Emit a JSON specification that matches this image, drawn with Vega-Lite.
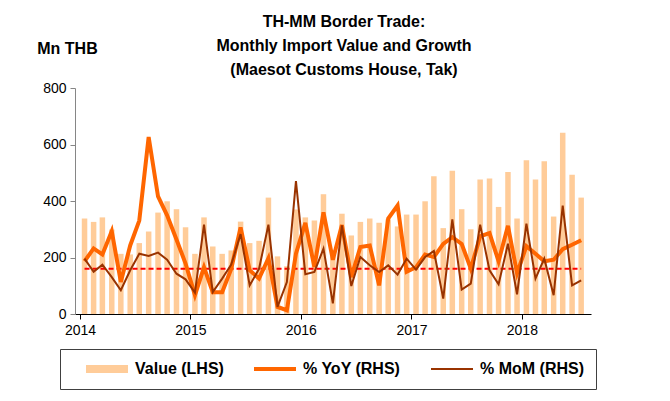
{
  "$schema": "https://vega.github.io/schema/vega-lite/v6.json",
  "autosize": {"type": "none"},
  "padding": {"left": 75, "top": 88, "right": 79, "bottom": 87},
  "width": 516,
  "height": 226,
  "background": "white",
  "config": {
    "font": "Liberation Sans",
    "view": {"stroke": null},
    "axis": {"grid": false, "labelFont": "Liberation Sans", "labelFontSize": 14, "labelColor": "#000000", "titleFont": "Liberation Sans"}
  },
  "title": {
    "text": ["TH-MM Border Trade:", "Monthly Import Value and Growth", "(Maesot Customs House, Tak)"],
    "font": "Liberation Sans",
    "fontSize": 16,
    "fontWeight": "bold",
    "color": "#000000",
    "lineHeight": 24,
    "anchor": "middle",
    "dx": 11,
    "dy": 46,
    "offset": 8
  },
  "data": {
    "values": [
      {"date": "2014-01-16", "value": 338, "yoy": 10, "mom": 13.5},
      {"date": "2014-02-15", "value": 326, "yoy": 27, "mom": -4},
      {"date": "2014-03-16", "value": 342, "yoy": 19, "mom": 5.5},
      {"date": "2014-04-16", "value": 299, "yoy": 50, "mom": -11},
      {"date": "2014-05-16", "value": 213, "yoy": -17.5, "mom": -28.5},
      {"date": "2014-06-16", "value": 211, "yoy": 31, "mom": -2},
      {"date": "2014-07-16", "value": 251, "yoy": 64, "mom": 20},
      {"date": "2014-08-16", "value": 292, "yoy": 175, "mom": 17},
      {"date": "2014-09-16", "value": 359, "yoy": 96, "mom": 21.5},
      {"date": "2014-10-16", "value": 399, "yoy": 71, "mom": 12},
      {"date": "2014-11-16", "value": 371, "yoy": 39, "mom": -6.5},
      {"date": "2014-12-16", "value": 307, "yoy": 7, "mom": -14},
      {"date": "2015-01-16", "value": 213, "yoy": -35, "mom": -31.6},
      {"date": "2015-02-15", "value": 342, "yoy": 2, "mom": 58.6},
      {"date": "2015-03-16", "value": 239, "yoy": -31, "mom": -31},
      {"date": "2015-04-16", "value": 213, "yoy": -31, "mom": -13},
      {"date": "2015-05-16", "value": 225, "yoy": 0, "mom": 5.5},
      {"date": "2015-06-16", "value": 327, "yoy": 55, "mom": 46},
      {"date": "2015-07-16", "value": 251, "yoy": -2, "mom": -22},
      {"date": "2015-08-16", "value": 259, "yoy": -13, "mom": 0},
      {"date": "2015-09-16", "value": 412, "yoy": 14, "mom": 58.6},
      {"date": "2015-10-16", "value": 204, "yoy": -50.6, "mom": -50.6},
      {"date": "2015-11-16", "value": 169, "yoy": -55, "mom": -17.5},
      {"date": "2015-12-16", "value": 370, "yoy": 20, "mom": 116.5},
      {"date": "2016-01-16", "value": 342, "yoy": 61, "mom": -7.3},
      {"date": "2016-02-15", "value": 331, "yoy": 2.4, "mom": -4.2},
      {"date": "2016-03-16", "value": 424, "yoy": 75, "mom": 26.8},
      {"date": "2016-04-16", "value": 226, "yoy": 12, "mom": -46},
      {"date": "2016-05-16", "value": 355, "yoy": 58, "mom": 57.7},
      {"date": "2016-06-16", "value": 278, "yoy": -11, "mom": -22.8},
      {"date": "2016-07-16", "value": 326, "yoy": 29, "mom": 15.7},
      {"date": "2016-08-16", "value": 338, "yoy": 31, "mom": 4.6},
      {"date": "2016-09-16", "value": 323, "yoy": -22, "mom": -4.2},
      {"date": "2016-10-16", "value": 335, "yoy": 66.6, "mom": 4.6},
      {"date": "2016-11-16", "value": 310, "yoy": 84, "mom": -7.7},
      {"date": "2016-12-16", "value": 352, "yoy": -4, "mom": 13.5},
      {"date": "2017-01-16", "value": 352, "yoy": 2, "mom": -1},
      {"date": "2017-02-15", "value": 399, "yoy": 19, "mom": 15.6},
      {"date": "2017-03-16", "value": 488, "yoy": 15.6, "mom": 23.6},
      {"date": "2017-04-16", "value": 304, "yoy": 33, "mom": -39.5},
      {"date": "2017-05-16", "value": 507, "yoy": 42, "mom": 65.6},
      {"date": "2017-06-16", "value": 371, "yoy": 33, "mom": -27.6},
      {"date": "2017-07-16", "value": 300, "yoy": 0.3, "mom": -19.7},
      {"date": "2017-08-16", "value": 476, "yoy": 43, "mom": 58.6},
      {"date": "2017-09-16", "value": 480, "yoy": 47.5, "mom": -2},
      {"date": "2017-10-16", "value": 379, "yoy": 10, "mom": -20.6},
      {"date": "2017-11-16", "value": 503, "yoy": 57, "mom": 33.4},
      {"date": "2017-12-16", "value": 338, "yoy": -6, "mom": -33.8},
      {"date": "2018-01-16", "value": 544, "yoy": 30, "mom": 60},
      {"date": "2018-02-15", "value": 476, "yoy": 20, "mom": -13},
      {"date": "2018-03-16", "value": 541, "yoy": 10, "mom": 13.5},
      {"date": "2018-04-16", "value": 345, "yoy": 12, "mom": -35},
      {"date": "2018-05-16", "value": 642, "yoy": 26, "mom": 84},
      {"date": "2018-06-16", "value": 493, "yoy": 32, "mom": -22},
      {"date": "2018-07-16", "value": 412, "yoy": 38, "mom": -15.3}
    ]
  },
  "encoding": {
    "x": {
      "field": "date",
      "type": "temporal",
      "scale": {"type": "utc", "domain": [{"year": 2014, "month": 1, "date": 1, "utc": true}, {"year": 2018, "month": 8, "date": 1, "utc": true}]},
      "axis": {
        "title": null,
        "values": [{"year": 2014, "month": 1, "date": 1, "utc": true}, {"year": 2015, "month": 1, "date": 1, "utc": true}, {"year": 2016, "month": 1, "date": 1, "utc": true}, {"year": 2017, "month": 1, "date": 1, "utc": true}, {"year": 2018, "month": 1, "date": 1, "utc": true}],
        "format": "%Y",
        "formatType": "utc",
        "domainColor": "#000000",
        "tickColor": "#000000",
        "tickSize": 5,
        "labelPadding": 4,
        "labelFlush": false
      }
    }
  },
  "layer": [
    {
      "mark": {"type": "bar", "width": 5.5},
      "encoding": {
        "y": {
          "field": "value",
          "type": "quantitative",
          "scale": {"domain": [0, 800], "nice": false},
          "axis": {
            "values": [0, 200, 400, 600, 800],
            "title": "Mn THB",
            "titleAngle": 0,
            "titleX": -8,
            "titleY": -40,
            "titleAlign": "center",
            "titleBaseline": "middle",
            "titleFontSize": 16,
            "titleFontWeight": "bold",
            "titleColor": "#000000",
            "domainColor": "#868686",
            "tickColor": "#868686",
            "tickSize": 5,
            "labelPadding": 4
          }
        },
        "color": {
          "datum": "Value (LHS)",
          "type": "nominal",
          "scale": {"domain": ["Value (LHS)", "% YoY (RHS)", "% MoM (RHS)"], "range": ["#FFCC99", "#FF6600", "#993300"]},
          "legend": {
            "title": null,
            "orient": "none",
            "direction": "horizontal",
            "legendX": -15,
            "legendY": 261,
            "strokeColor": "#404040",
            "padding": 12,
            "symbolType": "M-5.25,-1H5.25V1H-5.25Z",
            "symbolSize": 64,
            "symbolStrokeWidth": 0,
            "symbolOffset": 27,
            "labelFont": "Liberation Sans",
            "labelFontSize": 16,
            "labelFontWeight": "bold",
            "labelColor": "#000000",
            "labelOffset": 20,
            "columnPadding": 16,
            "encode": {
              "symbols": {
                "update": {
                  "shape": {"signal": "datum.value == 'Value (LHS)' ? 'M-5.25,-1H5.25V1H-5.25Z' : datum.value == '% YoY (RHS)' ? 'M-5.25,-0.5H5.25V0.5H-5.25Z' : 'M-5.25,-0.25H5.25V0.25H-5.25Z'"},
                  "fill": {"scale": "color", "field": "value"},
                  "stroke": {"value": "transparent"},
                  "strokeWidth": {"value": 0}
                }
              }
            }
          }
        }
      }
    },
    {
      "layer": [
        {
          "mark": {"type": "line", "color": "#FF0000", "strokeWidth": 2, "strokeDash": [5, 3]},
          "encoding": {
            "y": {
              "datum": 0,
              "type": "quantitative",
              "scale": {"domain": [-60, 240], "nice": false},
              "axis": {
                "values": [-60, 0, 60, 120, 180, 240],
                "orient": "right",
                "title": "%",
                "titleAngle": 0,
                "titleX": 29,
                "titleY": -40,
                "titleAlign": "center",
                "titleBaseline": "middle",
                "titleFontSize": 16,
                "titleFontWeight": "bold",
                "titleColor": "#000000",
                "domainColor": "#000000",
                "tickColor": "#000000",
                "tickSize": 5,
                "labelPadding": 4
              }
            }
          }
        },
        {
          "mark": {"type": "line", "strokeWidth": 4, "strokeJoin": "miter"},
          "encoding": {
            "y": {"field": "yoy", "type": "quantitative", "axis": null},
            "color": {"datum": "% YoY (RHS)", "type": "nominal"}
          }
        },
        {
          "mark": {"type": "line", "strokeWidth": 2},
          "encoding": {
            "y": {"field": "mom", "type": "quantitative", "axis": null},
            "color": {"datum": "% MoM (RHS)", "type": "nominal"}
          }
        }
      ]
    }
  ],
  "resolve": {"scale": {"y": "independent"}}
}
